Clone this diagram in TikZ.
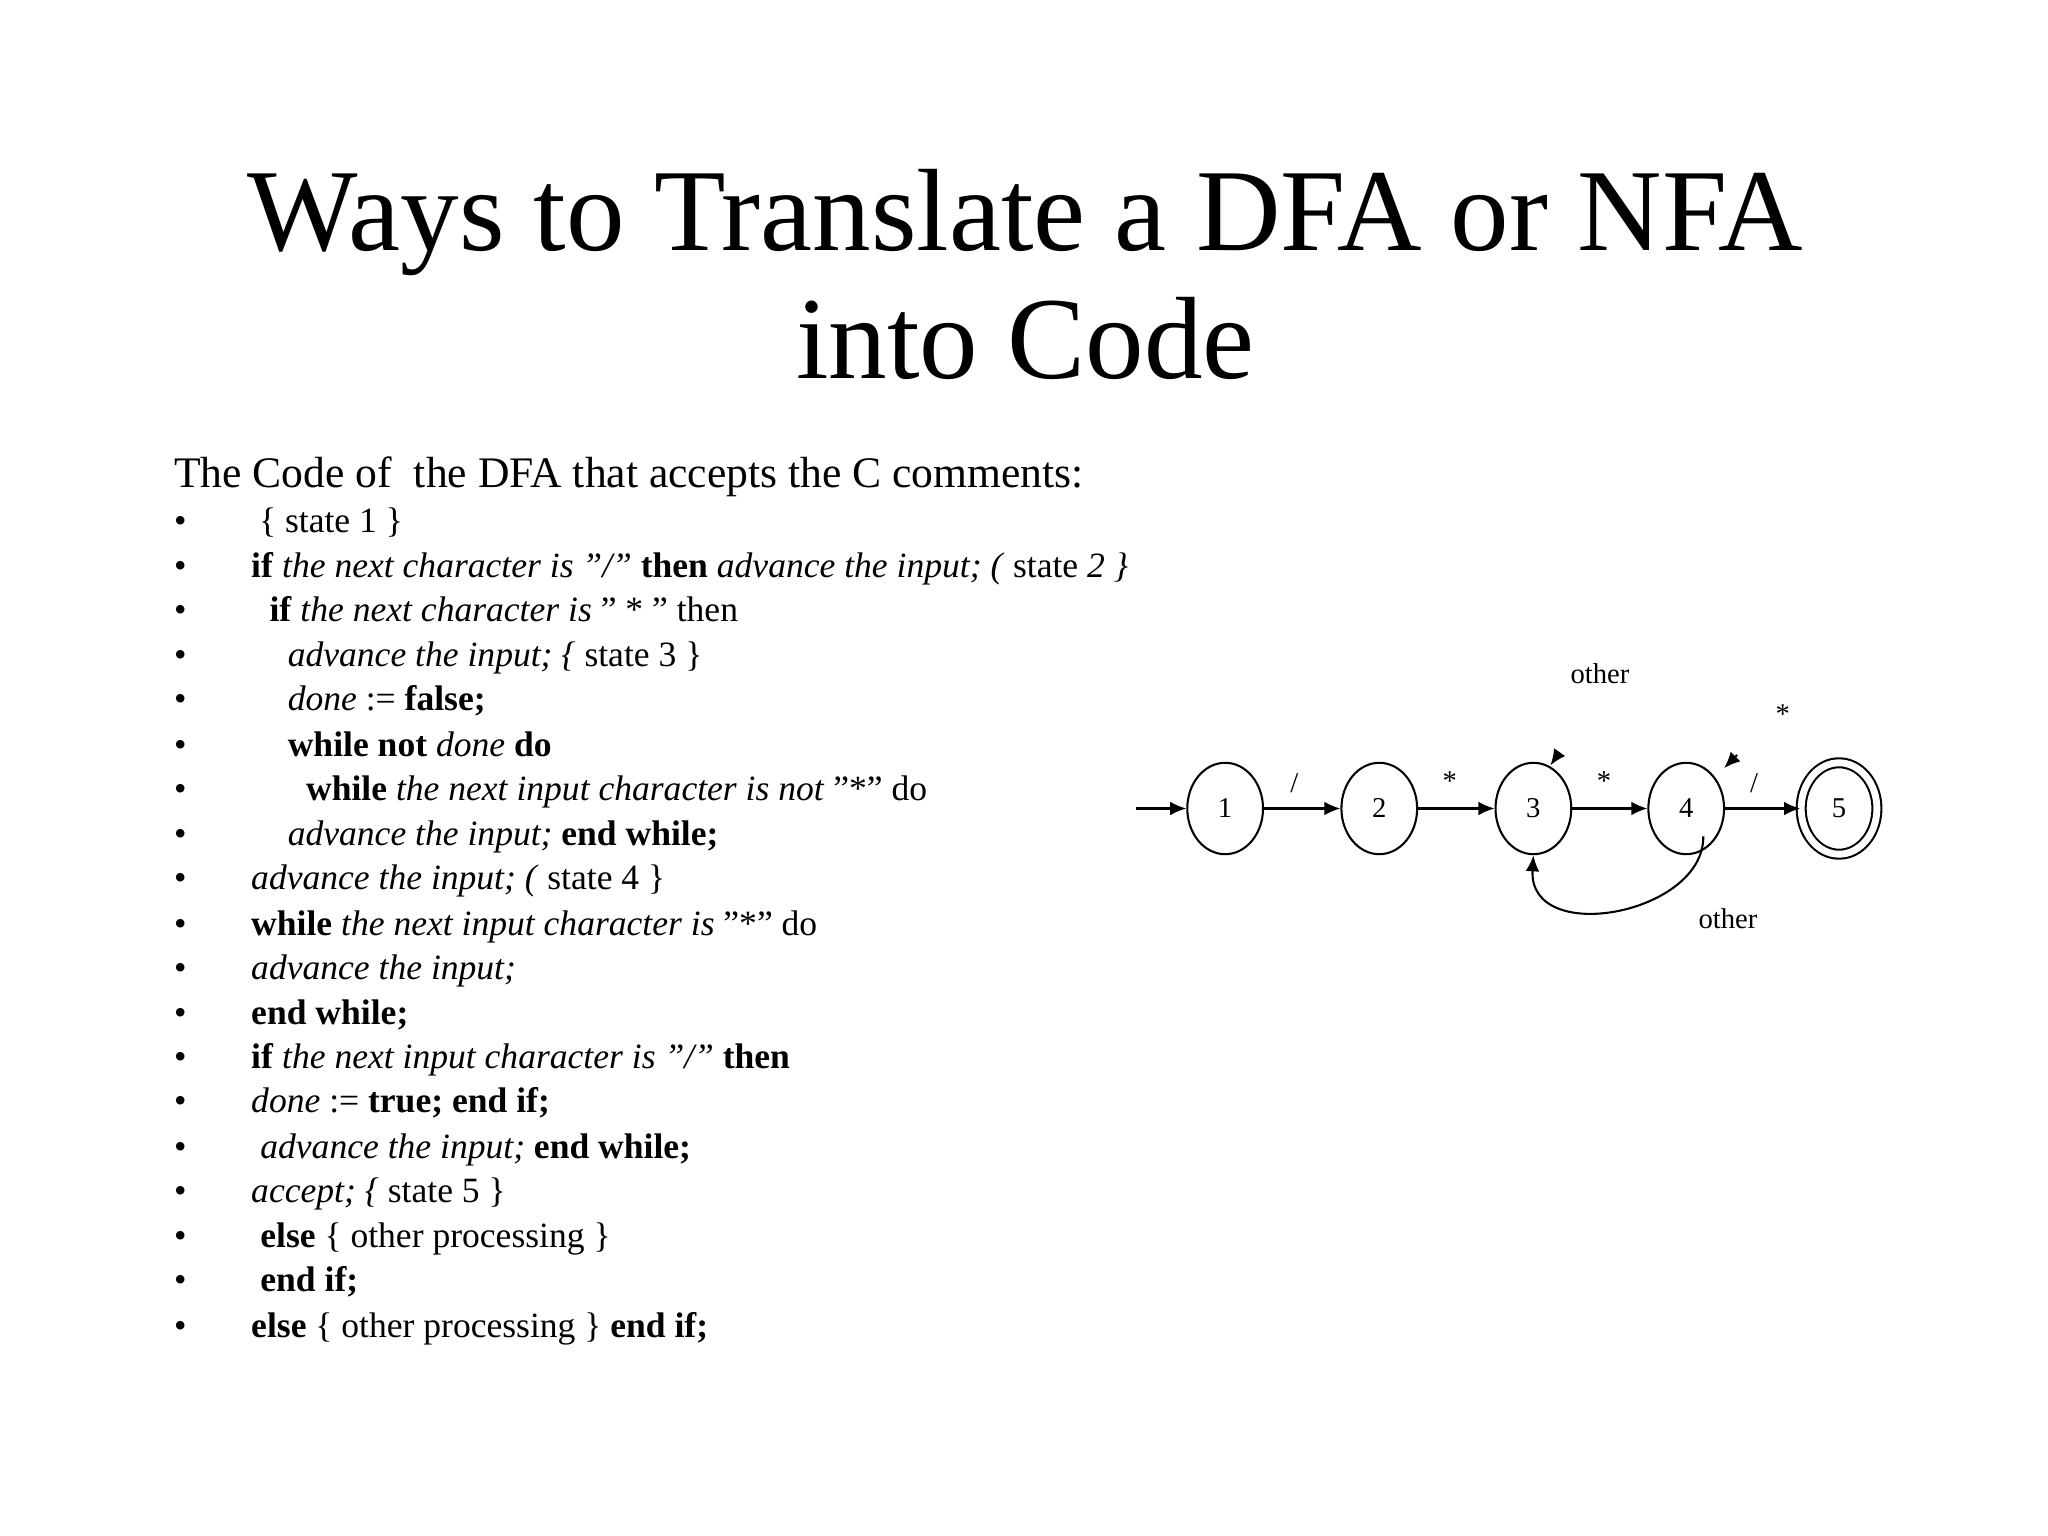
\documentclass[tikz,border=0pt]{standalone}
\usepackage{fontspec}
\setmainfont{Liberation Serif}
\usetikzlibrary{arrows.meta,shapes.geometric}
\begin{document}
\begin{tikzpicture}[x=0.02cm,y=-0.02cm,
  ln/.style={anchor=base west,inner sep=0pt,font=\fontsize{15.5}{18}\selectfont},
  bul/.style={anchor=base,inner sep=0pt,font=\fontsize{15.5}{18}\selectfont},
  st/.style={draw,ellipse,line width=0.9pt,minimum width=58\pgflinewidth*0+1.16cm,minimum height=1.4cm,inner sep=0pt,font=\fontsize{12.5}{14}\selectfont},
  lab/.style={inner sep=0pt,font=\fontsize{12.5}{14}\selectfont},
  edge/.style={line width=0.9pt,-{Latex[length=7pt,width=6pt]}}]
\useasboundingbox (0,0) rectangle (1568,1176);
\node[font=\fontsize{51}{60}\selectfont,align=center,inner sep=0pt] (title) at (785,210) {Ways to Translate a DFA or NFA\\[-4pt]into Code};
\node[anchor=base west,inner sep=0pt,font=\fontsize{19}{22}\selectfont] (intro) at (133,373) {The Code of\ \ the DFA that accepts the C comments:};
\foreach \y/\x/\t [count=\i] in {
 408/198/{\{ state 1 \}},
 442/192/{\textbf{if} \textit{the next character is "/"} \textbf{then} \textit{advance the input; (} state \textit{2 \}}},
 476/206/{\textbf{if} \textit{the next character is} " * " then},
 510/220/{\textit{advance the input; \{} state 3 \}},
 544/220/{\textit{done} := \textbf{false;}},
 579/220/{\textbf{while not} \textit{done} \textbf{do}},
 613/234/{\textbf{while} \textit{the next input character is not} "*" do},
 647/220/{\textit{advance the input;} \textbf{end while;}},
 681/192/{\textit{advance the input; (} state 4 \}},
 716/192/{\textbf{while} \textit{the next input character is} "*" do},
 750/192/{\textit{advance the input;}},
 784/192/{\textbf{end while;}},
 818/192/{\textbf{if} \textit{the next input character is "/"} \textbf{then}},
 852/192/{\textit{done} := \textbf{true; end if;}},
 887/199/{\textit{advance the input;} \textbf{end while;}},
 921/192/{\textit{accept; \{} state 5 \}},
 955/199/{\textbf{else} \{ other processing \}},
 989/199/{\textbf{end if;}},
 1024/192/{\textbf{else} \{ other processing \} \textbf{end if;}}}
 {\node[bul] (b\i) at (138,\y) {\textbullet};
  \node[ln] (l\i) at (\x,\y) {\t};}
% DFA
\node[st] (s1) at (938,619) {1};
\node[st] (s2) at (1056,619) {2};
\node[st] (s3) at (1174,619) {3};
\node[st] (s4) at (1291,619) {4};
\node[st,double,double distance=3pt] (s5) at (1408,619) {5};
\coordinate (in) at (870,619);
\draw[edge] (in) -- (s1);
\draw[edge] (s1) -- (s2);
\draw[edge] (s2) -- (s3);
\draw[edge] (s3) -- (s4);
\draw[edge] (s4) -- (s5);
\draw[edge] (s4.south east) ++(-8,-4) coordinate (a4) .. controls (1305,700) and (1170,725) .. (s3.south);
\coordinate (t3a) at (1194,576); \coordinate (t3b) at (1187,586);
\draw[edge] (t3a) -- (t3b);
\coordinate (t4a) at (1330,578); \coordinate (t4b) at (1320,588);
\draw[edge] (t4a) -- (t4b);
\node[lab] (l12) at (991,600) {/};
\node[lab] (l23) at (1110,598) {*};
\node[lab] (l34) at (1228,598) {*};
\node[lab] (l45) at (1343,600) {/};
\node[lab] (o3) at (1225,516) {other};
\node[lab] (o4) at (1365,547) {*};
\node[lab] (ob) at (1323,703) {other};
\end{tikzpicture}
\end{document}
